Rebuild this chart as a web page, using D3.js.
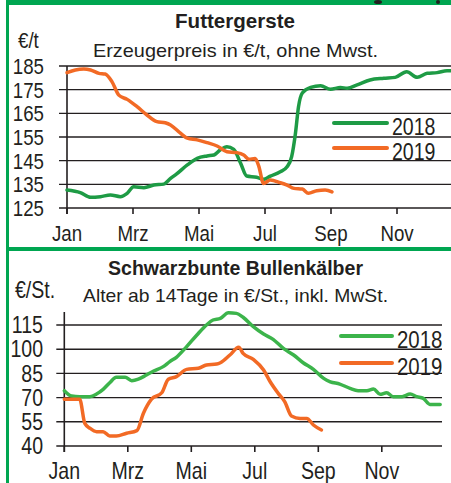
<!DOCTYPE html>
<html>
<head>
<meta charset="utf-8">
<script src="https://cdn.jsdelivr.net/npm/d3@7"></script>
<style>
  body { margin: 0; background: #fff; }
  svg { display: block; }
  text { font-family: "Liberation Sans", Arial, sans-serif; fill: #231f20; }
</style>
</head>
<body>
<div id="chart"></div>
<script>
// Monate (Achsbeschriftung)
const monthLabels = ["Jan", "Mrz", "Mai", "Jul", "Sep", "Nov"];
const monthIdx = [0, 2, 4, 6, 8, 10];

// Futtergerste, €/t (Kalenderwoche -> Preis)
const gersteTicks = [125, 135, 145, 155, 165, 175, 185];
const gersteWeeks2018 = [1, 2.75, 4.1, 5.4, 6.7, 8, 8.9, 9.75, 11.1, 12.4, 13.7, 14.6, 15.4, 16.8, 18.1, 19.4, 20.3, 21.1, 22, 22.9, 23.8, 24.6, 25.9, 26.8, 27.7, 29, 29.9, 30.5, 31, 31.4, 31.9, 33, 34.3, 35.6, 36.9, 37.8, 39.1, 40.8, 42.6, 44.1, 45.6, 47, 48.3, 49.6, 50.9, 52];
const gerste2018 = [132.6, 131.5, 129.5, 129.8, 130.5, 129.8, 131.2, 134, 133.6, 134.7, 135.1, 137.5, 139.4, 143.2, 146, 147, 147.4, 149.5, 150.9, 149.8, 143.9, 138.5, 138, 137.1, 138.5, 140.3, 142.4, 146.7, 156.6, 167.8, 173.6, 176, 176.7, 175.2, 175.9, 175.6, 177, 179.1, 179.8, 180.2, 182.6, 180.2, 181.9, 182.2, 183, 183];
const gersteWeeks2019 = [1, 2.1, 3.2, 4.1, 5.2, 6, 6.9, 7.8, 8.9, 10.2, 11.5, 12.8, 13.9, 14.6, 15.9, 16.8, 18.1, 19.4, 20.7, 22, 23.3, 24.2, 24.9, 25.7, 26.2, 26.8, 27.7, 29, 29.9, 30.8, 31.9, 32.7, 33.8, 34.9, 35.8];
const gerste2019 = [182.2, 183.3, 183.7, 183.3, 181.9, 181.6, 178.4, 172.7, 170.9, 167.8, 164.3, 161.5, 161, 160.1, 156.6, 154.5, 153.8, 152.6, 151.2, 148.8, 148.4, 147.4, 145.6, 145.9, 142.5, 135.4, 136.8, 135.7, 134.7, 133.3, 133, 131.2, 132.3, 132.6, 131.8];

// Schwarzbunte Bullenkälber, €/St.
const kaelberTicks = [40, 55, 70, 85, 100, 115];
const kaelberWeeks2018 = [1, 2, 3.1, 4.5, 5.4, 6.3, 7.2, 8.1, 9.3, 10.2, 11.1, 12.2, 13.2, 14.5, 15.4, 16.3, 17.7, 19.1, 20.4, 21.3, 22.3, 23.4, 24.5, 25.4, 26.8, 28.2, 29.5, 30.9, 32.3, 33.6, 35, 36.4, 37.3, 38.6, 40, 41.1, 42.3, 43.2, 44.1, 45, 45.9, 47.1, 48.2, 49.1, 50, 50.9, 52.3];
const kaelber2018 = [74.3, 71, 70.6, 70.6, 72.2, 75.1, 79.2, 82.6, 82.6, 80.5, 81.4, 84, 86.5, 89.2, 92.3, 95, 101.6, 108.8, 115, 118.1, 119.1, 122.6, 122.2, 119.8, 114, 109.4, 106.1, 100.5, 96.4, 91.6, 87.5, 81.9, 79.8, 78.4, 75.7, 74.3, 74.3, 75.3, 72, 73, 70.6, 70.6, 72.2, 70.6, 69.5, 65.8, 65.8];
const kaelberWeeks2019 = [1, 3.1, 3.8, 4.5, 5.4, 6.3, 7.2, 8.1, 9.5, 10.9, 11.8, 12.9, 14.3, 15.2, 16.3, 17.7, 19.3, 20.4, 21.8, 22.3, 23.6, 24.8, 25.4, 26.8, 28.2, 29.1, 30.2, 31.1, 32, 33.2, 34.1, 35, 36.1];
const kaelber2019 = [69, 69, 54, 51, 48.9, 48.9, 46.2, 46.2, 47.9, 49.5, 60.3, 69, 73, 81.4, 83, 87.5, 88.2, 90.2, 90.8, 91.6, 96.4, 101.2, 97.4, 93.7, 87.1, 79.8, 72.6, 67.4, 58.6, 57.1, 57.1, 53, 49.9];

const W = 451, H = 483;
const frameGreen = "#00a651";
const sx = 0.85; // schmale Schrift nachbilden

const svg = d3.select("#chart").append("svg")
    .attr("width", W)
    .attr("height", H);

svg.append("rect").attr("width", W).attr("height", H).attr("fill", "#fff");

// Rahmen
svg.append("rect").attr("x", 6).attr("y", 0).attr("width", W - 6).attr("height", 5).attr("fill", frameGreen);
svg.append("rect").attr("x", 6).attr("y", 0).attr("width", 3).attr("height", H).attr("fill", frameGreen);
svg.append("rect").attr("x", 6).attr("y", 247).attr("width", W - 6).attr("height", 4).attr("fill", frameGreen);
// angeschnittenes Logo oben rechts
svg.append("ellipse").attr("cx", 378).attr("cy", 2).attr("rx", 4).attr("ry", 2).attr("fill", "#231f20");
svg.append("ellipse").attr("cx", 438).attr("cy", 2).attr("rx", 2).attr("ry", 2).attr("fill", "#231f20");

function weekOfMonth(m) { return 1 + m * 52 / 12; }

function narrowText(parent, x, y, size, anchor, str) {
    return parent.append("text")
        .attr("transform", `translate(${x},${y}) scale(${sx},1)`)
        .attr("text-anchor", anchor)
        .style("font-size", size + "px")
        .text(str);
}

function drawPanel(p) {
    const x = d3.scaleLinear().domain([1, 53]).range(p.xRange);
    const y = d3.scaleLinear().domain(p.yDomain).range(p.yRange);
    const g = svg.append("g");

    // Titel
    g.append("text").attr("x", p.titleX).attr("y", p.titleY)
        .attr("textLength", p.titleLen).attr("lengthAdjust", "spacingAndGlyphs")
        .style("font-size", p.titleSize + "px").style("font-weight", "bold")
        .text(p.title);
    narrowText(g, p.unitX, p.unitY, p.labelSize, "start", p.unit);
    g.append("text").attr("x", p.subX).attr("y", p.subY)
        .attr("textLength", p.subLen).attr("lengthAdjust", "spacingAndGlyphs")
        .style("font-size", p.subSize + "px")
        .text(p.subtitle);

    // Gitterlinien
    const x0 = p.xRange[0];
    g.selectAll(".grid").data(p.ticks).join("line")
        .attr("x1", x0 - 8).attr("x2", p.gridEnd)
        .attr("y1", d => y(d)).attr("y2", d => y(d))
        .attr("stroke", "#231f20").attr("stroke-width", 1.4);

    p.ticks.forEach(t => {
        narrowText(g, p.yLabelX, y(t) + p.labelSize * 0.36, p.labelSize, "end", t);
    });

    // y-Achse
    g.append("line")
        .attr("x1", x0).attr("x2", x0)
        .attr("y1", p.axisTop).attr("y2", p.yRange[0] + 6)
        .attr("stroke", "#231f20").attr("stroke-width", 1.6);

    // x-Achse Ticks
    g.selectAll(".xt").data(monthIdx).join("line")
        .attr("x1", d => x(weekOfMonth(d))).attr("x2", d => x(weekOfMonth(d)))
        .attr("y1", p.yRange[0]).attr("y2", p.yRange[0] + 6)
        .attr("stroke", "#231f20").attr("stroke-width", 1.6);

    monthIdx.forEach((m, i) => {
        narrowText(g, x(weekOfMonth(m)), p.xLabelY, p.labelSize, "middle", monthLabels[i]);
    });

    // Linien
    const line = d3.line().x(d => x(d[0])).y(d => y(d[1])).curve(d3.curveMonotoneX);
    p.series.forEach(s => {
        g.append("path")
            .datum(d3.zip(s.weeks, s.values))
            .attr("fill", "none")
            .attr("stroke", s.color)
            .attr("stroke-width", 3.5)
            .attr("stroke-linejoin", "round")
            .attr("stroke-linecap", "round")
            .attr("d", line);
    });

    // Legende
    p.series.forEach((s, i) => {
        const ly = p.legendY[i];
        g.append("line")
            .attr("x1", p.legendX[0]).attr("x2", p.legendX[1])
            .attr("y1", ly).attr("y2", ly)
            .attr("stroke", s.color).attr("stroke-width", 4).attr("stroke-linecap", "round");
        narrowText(g, p.legendX[1] + 5, ly + 12, p.labelSize + 1, "start", s.name);
    });
}

drawPanel({
    title: "Futtergerste", titleX: 175, titleY: 28, titleSize: 21, titleLen: 120,
    unit: "€/t", unitX: 18, unitY: 48,
    subtitle: "Erzeugerpreis in €/t, ohne Mwst.", subX: 93, subY: 57, subSize: 19, subLen: 285,
    labelSize: 22,
    xRange: [67, 463], yDomain: [125, 185], yRange: [208, 66],
    ticks: gersteTicks, gridEnd: W, axisTop: 66,
    yLabelX: 44, xLabelY: 241,
    legendX: [334, 387], legendY: [123, 148],
    series: [
        { name: "2018", weeks: gersteWeeks2018, values: gerste2018, color: "#1e9b45" },
        { name: "2019", weeks: gersteWeeks2019, values: gerste2019, color: "#f26a25" }
    ]
});

drawPanel({
    title: "Schwarzbunte Bullenkälber", titleX: 108, titleY: 275, titleSize: 21, titleLen: 255,
    unit: "€/St.", unitX: 15, unitY: 298,
    subtitle: "Alter ab 14Tage in €/St., inkl. MwSt.", subX: 83, subY: 302, subSize: 19, subLen: 305,
    labelSize: 23,
    xRange: [64.3, 445.3], yDomain: [40, 115], yRange: [446, 325],
    ticks: kaelberTicks, gridEnd: 442, axisTop: 312,
    yLabelX: 43, xLabelY: 479,
    legendX: [341, 392], legendY: [336, 363],
    series: [
        { name: "2018", weeks: kaelberWeeks2018, values: kaelber2018, color: "#3cb44b" },
        { name: "2019", weeks: kaelberWeeks2019, values: kaelber2019, color: "#f26a25" }
    ]
});
</script>
</body>
</html>
